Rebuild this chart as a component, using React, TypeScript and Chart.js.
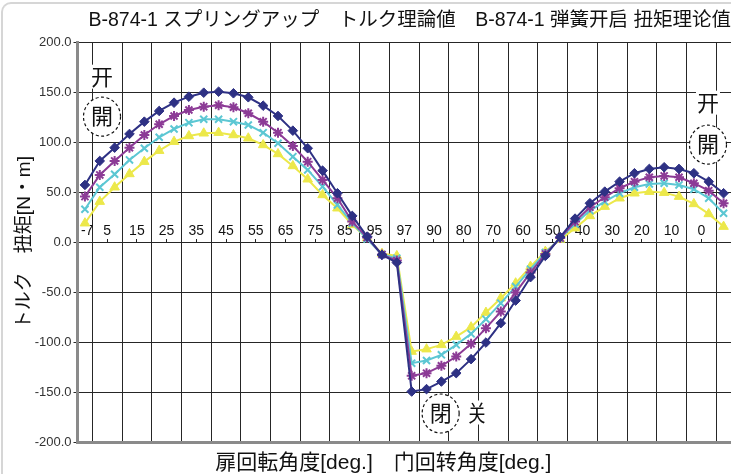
import React, { useEffect, useRef } from 'react';
import { Chart, registerables } from 'chart.js';

Chart.register(...registerables);

// ---- data ----
const xTickLabels = ['-7', '5', '15', '25', '35', '45', '55', '65', '75', '85', '95', '97', '90', '80', '70', '60', '50', '40', '30', '20', '10', '0'];
const xTickSlots = [0.15, 1.5, 3.5, 5.5, 7.5, 9.5, 11.5, 13.5, 15.5, 17.5, 19.5, 21.5, 23.5, 25.5, 27.5, 29.5, 31.5, 33.5, 35.5, 37.5, 39.5, 41.5];
const gridSlots = [0.5, 2.5, 4.5, 6.5, 8.5, 10.5, 12.5, 14.5, 16.5, 18.5, 20.5, 22.5, 24.5, 26.5, 28.5, 30.5, 32.5, 34.5, 36.5, 38.5, 40.5, 42.5];

const navySeries = [57.7, 81.7, 95, 108.7, 121, 131.7, 140, 146, 150, 151, 149.4, 145.4, 137, 126.7, 112, 94.4, 72, 49.4, 26.7, 6, -12.3, -20, -149, -146.6, -139, -130.6, -116.6, -100, -80.6, -58, -34.6, -13.3, 5.5, 24, 39.4, 51, 61, 69.4, 73.7, 75.4, 73.7, 69.4, 61, 49.4];
const purpleSeries = [46, 67.7, 81.7, 95, 107.7, 118.4, 126.7, 132.7, 136, 137.4, 135.4, 129.4, 121, 110, 96.7, 81, 62.7, 44.4, 21, 5, -12, -18, -133.3, -130.6, -123.3, -114, -101.3, -85.6, -69, -50, -30, -11.3, 4.5, 21, 35.4, 45.4, 54.4, 61, 65.4, 66.7, 65.4, 59.4, 52, 39.4];
const cyanSeries = [33.4, 55.4, 68.4, 82.7, 94.4, 105.4, 113.7, 120, 123.4, 123.4, 121, 117.7, 110, 99.4, 86, 72.7, 56, 37.7, 19.4, 3.5, -12, -15.6, -120.6, -118, -112.3, -102.3, -91.3, -76.6, -60.6, -44, -26.6, -10, 4, 18.7, 32, 41, 49.4, 55.4, 58.7, 59.4, 57.7, 53.4, 44.4, 29.4];
const yellowSeries = [19.4, 41, 55.4, 68.7, 81, 92, 101, 106.7, 109.4, 110, 107.7, 104.4, 97.7, 88.7, 76.7, 63.4, 47.7, 34.4, 17.7, 4.4, -11, -13.3, -109, -106.6, -102.3, -94, -84.6, -70, -55.6, -40.6, -24, -9, 3, 14.4, 26.7, 36, 44.4, 49.4, 51, 50, 46, 38.7, 28.7, 16];

const titleText = 'B-874-1 スプリングアップ　トルク理論値　B-874-1 弾簧开启 扭矩理论值';
const xTitle = '扉回転角度[deg.]　门回转角度[deg.]　　';
const yTitle = 'トルク　扭矩[N・m]';

const notes = [
  { text: '开', k: 1.15, v: 166, circle: false },
  { text: '開', k: 1.15, v: 127, circle: true },
  { text: '开', k: 41.95, v: 140, circle: false },
  { text: '開', k: 41.95, v: 99, circle: true },
  { text: '閉', k: 23.95, v: -170, circle: true },
  { text: '关', k: 26.4, v: -170, circle: false },
];

const LATIN = "'Liberation Sans', Arial, 'Noto Sans CJK JP', sans-serif";
const NAVY = '#2e3184';
const PURPLE = '#8c3b96';
const CYAN = '#5cc7d3';
const YELLOW = '#ece84a';

const toPts = (vals: number[]) => vals.map((y, i) => ({ x: i, y }));

const notePlugin = {
  id: 'notes',
  afterDatasetsDraw(chart: any) {
    const { ctx, scales } = chart;
    const xs = scales.x;
    const ys = scales.y;
    ctx.save();
    ctx.font = "22px 'Noto Sans CJK JP', sans-serif";
    ctx.textAlign = 'center';
    ctx.textBaseline = 'middle';
    for (const n of notes) {
      const px = xs.getPixelForValue(n.k);
      const py = ys.getPixelForValue(n.v);
      ctx.fillStyle = '#ffffff';
      if (n.circle) {
        ctx.beginPath();
        ctx.ellipse(px, py + 1, 18.5, 19.5, 0, 0, Math.PI * 2);
        ctx.fill();
        ctx.setLineDash([3, 2.5]);
        ctx.lineWidth = 1.2;
        ctx.strokeStyle = '#111';
        ctx.stroke();
        ctx.setLineDash([]);
      } else {
        ctx.fillRect(px - 12, py - 12, 24, 24);
      }
      ctx.fillStyle = '#111';
      ctx.fillText(n.text, px, py);
    }
    ctx.restore();
  },
};

export default function App() {
  const ref = useRef<HTMLCanvasElement>(null);

  useEffect(() => {
    if (!ref.current) return;
    const chart = new Chart(ref.current, {
      type: 'line',
      data: {
        datasets: [
          {
            label: 'A',
            data: toPts(navySeries),
            borderColor: NAVY,
            backgroundColor: NAVY,
            pointStyle: 'rectRot',
            pointRadius: 4.8,
            pointBorderWidth: 1,
            borderWidth: 2,
          },
          {
            label: 'B',
            data: toPts(purpleSeries),
            borderColor: PURPLE,
            backgroundColor: PURPLE,
            pointStyle: 'star',
            pointRadius: 5,
            pointBorderWidth: 2,
            borderWidth: 2,
          },
          {
            label: 'C',
            data: toPts(cyanSeries),
            borderColor: CYAN,
            backgroundColor: CYAN,
            pointStyle: 'crossRot',
            pointRadius: 5,
            pointBorderWidth: 2,
            borderWidth: 2,
          },
          {
            label: 'D',
            data: toPts(yellowSeries),
            borderColor: YELLOW,
            backgroundColor: YELLOW,
            pointStyle: 'triangle',
            pointRadius: 5.5,
            pointBorderWidth: 1,
            borderWidth: 2,
          },
        ],
      },
      options: {
        responsive: false,
        animation: false,
        layout: { padding: 0, autoPadding: false },
        plugins: {
          legend: { display: false },
          tooltip: { enabled: false },
          title: {
            display: true,
            text: titleText,
            fullSize: false,
            align: 'end',
            color: '#111',
            font: { size: 19.5, family: LATIN, weight: 'normal' },
            padding: { top: 9, bottom: 10.3 },
          },
        },
        scales: {
          x: {
            type: 'linear',
            min: -0.5,
            max: 43.5,
            bounds: 'data',
            afterBuildTicks: (s: any) => {
              s.ticks = gridSlots.map((v) => ({ value: v }));
            },
            ticks: { display: false },
            grid: { color: '#262626', lineWidth: 1, drawTicks: false },
            border: { display: true, color: '#8a8a8a', width: 3 },
            title: {
              display: true,
              text: xTitle,
              color: '#111',
              font: { size: 21, family: LATIN },
              padding: { top: 7.8, bottom: -1.5 },
            },
          },
          xl: {
            type: 'linear',
            axis: 'x',
            position: { y: 0 },
            min: -0.5,
            max: 43.5,
            bounds: 'data',
            afterBuildTicks: (s: any) => {
              s.ticks = xTickSlots.map((v) => ({ value: v }));
            },
            ticks: {
              autoSkip: false,
              maxRotation: 0,
              padding: -15.4,
              color: '#111',
              font: { size: 14, family: LATIN },
              callback: (_v: any, i: number) => xTickLabels[i],
            },
            grid: {
              drawOnChartArea: false,
              drawTicks: true,
              tickLength: -4,
              color: (c: any) => (c.index === 0 ? 'rgba(0,0,0,0)' : '#222'),
            },
            border: { display: false },
          },
          y: {
            type: 'linear',
            min: -200,
            max: 200,
            afterFit: (s: any) => {
              s.width = 77.5;
            },
            ticks: {
              stepSize: 50,
              padding: 2,
              color: '#333',
              font: { size: 13, family: LATIN },
              callback: (v: any) => Number(v).toFixed(1),
            },
            grid: { color: '#262626', lineWidth: 1, tickLength: 4 },
            border: { display: true, color: '#8a8a8a', width: 3 },
            title: {
              display: true,
              text: yTitle,
              color: '#111',
              font: { size: 19, family: LATIN },
              padding: { top: 13.6, bottom: 0 },
            },
          },
        },
      } as any,
      plugins: [notePlugin],
    });
    return () => chart.destroy();
  }, []);

  return (
    <div style={{ position: 'fixed', left: 0, top: 0, width: 731, height: 474, background: '#fff', overflow: 'hidden' }}>
      <canvas ref={ref} width={731} height={474} style={{ display: 'block', width: 731, height: 474 }} />
      <div
        style={{
          position: 'absolute',
          left: 1,
          top: 2,
          width: 780,
          height: 520,
          borderTop: '2px solid #d6d6d6',
          borderLeft: '2px solid #d6d6d6',
          borderTopLeftRadius: 10,
          pointerEvents: 'none',
        }}
      />
    </div>
  );
}
